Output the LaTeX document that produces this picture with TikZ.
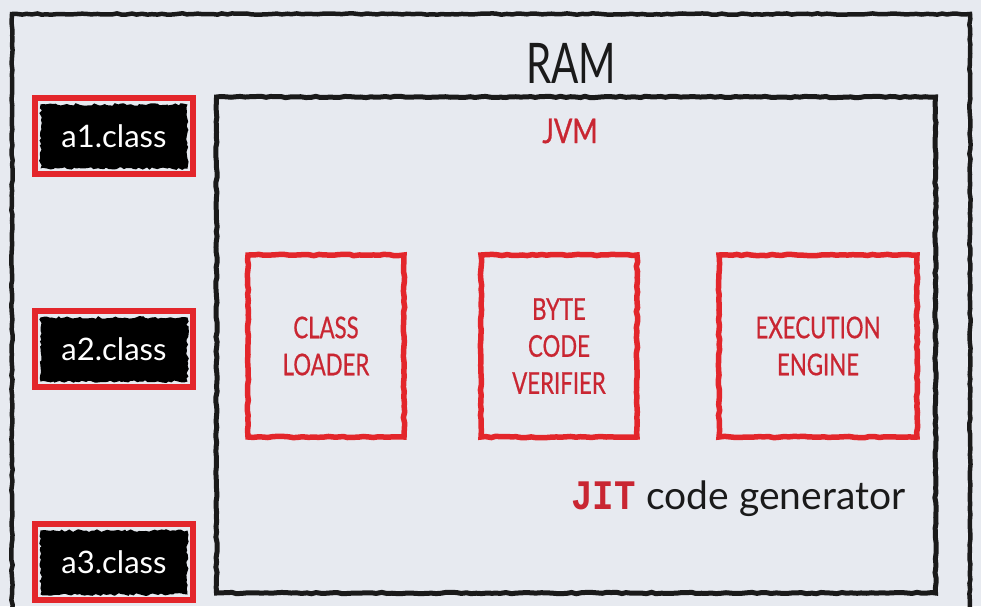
\documentclass[tikz,border=0pt]{standalone}
\usepackage{fontspec}
\setmainfont{Lato}
\newfontfamily\handcond[FakeStretch=0.72]{Lato}
\newfontfamily\capsfont[FakeStretch=0.74,FakeBold=0.6]{Lato}
\newfontfamily\jvmfont[FakeStretch=0.8,FakeBold=0.8]{Lato}
\newfontfamily\jitfont[FakeStretch=0.85]{Liberation Mono}
\usetikzlibrary{decorations.pathmorphing}
\definecolor{bg}{HTML}{E7EAF0}
\definecolor{boxred}{HTML}{E3262B}
\definecolor{txtred}{HTML}{C92632}
\definecolor{ink}{HTML}{1A1A1A}
\tikzset{
  sketch/.style={decorate,decoration={random steps,segment length=5pt,amplitude=0.7pt}},
  blackframe/.style={draw=ink,line width=5pt,sketch},
  redbox/.style={draw=boxred,line width=5.5pt,sketch,minimum width=156pt,minimum height=182pt,
     align=center,text=txtred,font=\capsfont\fontsize{30}{37}\selectfont},
  classbox/.style={draw=boxred,line width=6pt,inner sep=0pt,
     minimum width=158pt,minimum height=76pt,text=white,font=\fontsize{31}{36}\selectfont,
     path picture={\fill[black,decorate,decoration={random steps,segment length=3pt,amplitude=1.4pt}]
       ([shift={(5.5pt,-6.5pt)}]path picture bounding box.north west) rectangle
       ([shift={(-5.5pt,5.5pt)}]path picture bounding box.south east);}},
}
\begin{document}
\begin{tikzpicture}[x=1pt,y=-1pt]
\fill[bg] (0,0) rectangle (981,606);
\useasboundingbox (0,0) rectangle (981,606);
\clip (0,0) rectangle (981,606);
% RAM box
\draw[blackframe,line width=4.5pt] (12,14) -- (970,14) -- (970,615) -- (12,615) -- cycle;
\node[font=\handcond\fontsize{56}{60}\selectfont,text=ink] (ram) at (571,63) {RAM};
% JVM box
\node[blackframe,minimum width=719pt,minimum height=496pt] (jvm) at (576,345) {};
\node[font=\jvmfont\fontsize{34}{34}\selectfont,text=txtred] (jvmlabel) at (570,131) {JVM};
% class files
\node[classbox] (a1) at (114,136) {a1.class};
\node[classbox] (a2) at (114,349) {a2.class};
\node[classbox] (a3) at (114,562) {a3.class};
% components
\node[redbox] (cl) at (326,346) {CLASS\\LOADER};
\node[redbox] (bcv) at (559,346) {BYTE\\CODE\\VERIFIER};
\node[redbox,minimum width=198pt] (ee) at (818,346) {EXECUTION\\ENGINE};
% JIT
\node[anchor=base west,inner sep=0pt] (jit) at (571,509)
  {{\jitfont\bfseries\fontsize{42}{42}\selectfont\textcolor{txtred}{JIT}}\hspace{11pt}{\fontsize{39}{40}\selectfont\textcolor{ink}{code generator}}};
\end{tikzpicture}
\end{document}
